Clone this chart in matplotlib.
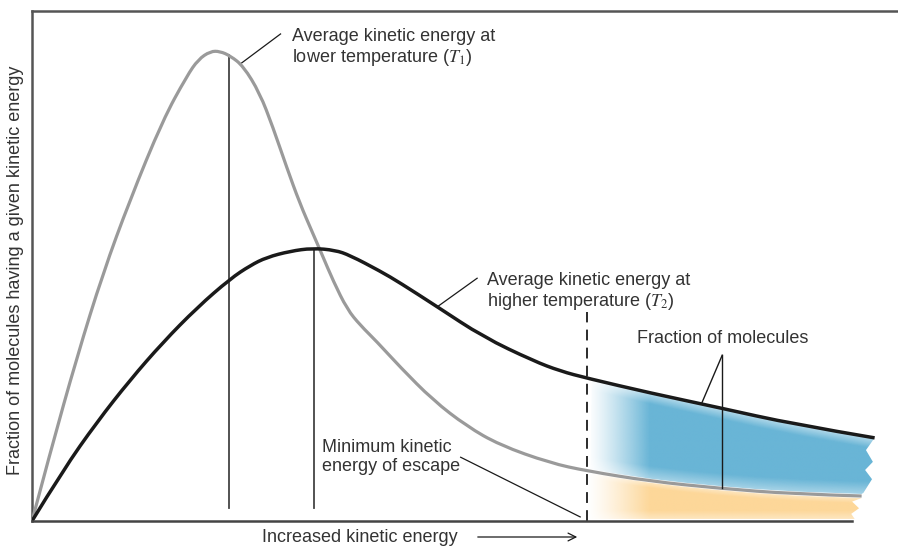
import numpy as np
import matplotlib
matplotlib.use("Agg")
import matplotlib.pyplot as plt
from matplotlib.patches import Polygon, PathPatch
from matplotlib.path import Path

plt.rcParams['font.family'] = ['Liberation Sans', 'DejaVu Sans']
plt.rcParams['mathtext.fontset'] = 'stix'

# curves (energy in arbitrary units, fraction 0..1)
energy_T1 = [0, 0.208, 0.52, 0.82, 1.13, 1.51, 1.79, 1.92, 2.06, 2.17, 2.29, 2.44,
             2.63, 2.78, 2.94, 3.09, 3.24, 3.35, 3.48, 3.64, 3.79, 3.98, 4.25,
             4.63, 5.02, 5.40, 5.98, 6.41, 7.14, 7.94, 8.79, 9.58]
frac_T1 = [0, 0.133, 0.322, 0.486, 0.629, 0.786, 0.873, 0.905, 0.921, 0.921, 0.912,
           0.892, 0.839, 0.773, 0.694, 0.624, 0.565, 0.522, 0.470, 0.415, 0.384,
           0.352, 0.302, 0.237, 0.186, 0.149, 0.114, 0.098, 0.078, 0.064, 0.053, 0.049]

energy_T2 = [0, 0.36, 0.75, 1.13, 1.51, 1.91, 2.29, 2.52, 2.71, 2.98, 3.24, 3.50,
             3.67, 4.02, 4.25, 4.68, 5.21, 5.79, 6.10, 6.41, 7.14, 7.94, 8.79, 9.73]
frac_T2 = [0, 0.10, 0.194, 0.276, 0.350, 0.419, 0.475, 0.501, 0.517, 0.529, 0.535,
           0.531, 0.521, 0.490, 0.467, 0.420, 0.361, 0.314, 0.294, 0.280, 0.251,
           0.222, 0.190, 0.163]

avg_T1 = 2.27
avg_T2 = 3.26
escape_energy = 6.41

# torn right edge of the shaded bands
blue_edge_x = [9.63, 9.71, 9.62, 9.70, 9.60]
blue_edge_y = [0.139, 0.116, 0.100, 0.082, 0.055]
orange_edge_x = [9.47, 9.55, 9.46, 9.50]
orange_edge_y = [0.038, 0.025, 0.014, 0.004]

gray = '#9a9a9a'
black = '#1a1a1a'
blue = '#69b5d6'
orange = '#fdd799'
txt = '#333333'

fig = plt.figure(figsize=(8.98, 5.46), dpi=100)
ax = fig.add_axes([32 / 898, 25 / 546, 866 / 898, 510 / 546])
ax.set_xlim(0, 10)
ax.set_ylim(0, 1)


def smooth_path(xs, ys):
    # quadratic bezier through the midpoints, read points act as control points
    pts = np.column_stack([xs, ys])
    verts = [pts[0]]
    codes = [Path.MOVETO]
    for i in range(1, len(pts) - 1):
        end = pts[i + 1] if i == len(pts) - 2 else (pts[i] + pts[i + 1]) / 2
        verts += [pts[i], end]
        codes += [Path.CURVE3, Path.CURVE3]
    return Path(verts, codes)


path_T1 = smooth_path(energy_T1, frac_T1)
path_T2 = smooth_path(energy_T2, frac_T2)
flat_T1 = path_T1.to_polygons(closed_only=False)[0]
flat_T2 = path_T2.to_polygons(closed_only=False)[0]


def curve_y(flat, x):
    return np.interp(x, flat[:, 0], flat[:, 1])


def gradient_fill(poly_xy, color, x0, x1, y_top, y_bot, soft_top, soft_bot):
    rgb = matplotlib.colors.to_rgb(color)
    ny, nx = 200, 300
    xs = np.linspace(x0, x1, nx)
    ys = np.linspace(0, 0.35, ny)
    X, Y = np.meshgrid(xs, ys)
    top = y_top(X)
    bot = y_bot(X)
    a = np.clip((X - x0) / 0.72, 0, 1) ** 1.2
    a = a * (0.45 + 0.55 * np.clip((top - Y) / soft_top, 0, 1))
    a = a * (0.55 + 0.45 * np.clip((Y - bot) / soft_bot, 0, 1))
    img = np.zeros((ny, nx, 4))
    img[..., :3] = rgb
    img[..., 3] = a
    im = ax.imshow(img, extent=(x0, x1, 0, 0.35), aspect='auto', origin='lower',
                   interpolation='bilinear', zorder=1)
    patch = Polygon(poly_xy, closed=True, facecolor='none', edgecolor='none')
    ax.add_patch(patch)
    im.set_clip_path(patch)


top = flat_T2[flat_T2[:, 0] >= escape_energy]
bot = flat_T1[flat_T1[:, 0] >= escape_energy]

# blue band: between the two curves beyond the escape energy
poly = list(top) + list(zip(blue_edge_x, blue_edge_y)) + list(bot[::-1] + [0, 0.004])
gradient_fill(poly, blue, escape_energy, 9.75,
              lambda x: curve_y(flat_T2, x), lambda x: curve_y(flat_T1, x), 0.022, 0.028)

# orange band: under the T1 curve beyond the escape energy
poly = list(bot - [0, 0.004]) + list(zip(orange_edge_x, orange_edge_y)) + [(escape_energy, 0.004)]
gradient_fill(poly, orange, escape_energy, 9.75,
              lambda x: curve_y(flat_T1, x), lambda x: 0 * x, 0.015, 0.02)

ax.add_patch(PathPatch(path_T1, facecolor='none', edgecolor=gray, lw=2.3, zorder=3))
ax.add_patch(PathPatch(path_T2, facecolor='none', edgecolor=black, lw=2.5, zorder=3))

# averages
ax.plot([avg_T1, avg_T1], [0.025, curve_y(flat_T1, avg_T1)], color='#444444', lw=1.3, zorder=2)
ax.plot([avg_T2, avg_T2], [0.025, curve_y(flat_T2, avg_T2)], color='#444444', lw=1.3, zorder=2)
ax.plot([escape_energy, escape_energy], [0, 0.41], color=black, lw=1.3,
        linestyle=(0, (6, 4)), zorder=4)

# bottom axis line
ax.plot([0, 9.47], [0, 0], color='#444444', lw=1.8, clip_on=False, zorder=5)

for s in ['right', 'bottom']:
    ax.spines[s].set_visible(False)
for s in ['left', 'top']:
    ax.spines[s].set_color('#555555')
    ax.spines[s].set_linewidth(1.8)
ax.set_xticks([])
ax.set_yticks([])

# labels and leaders
fs = 13
ax.text(3.0, 0.927, "Average kinetic energy at\nlower temperature ($T_1$)", fontsize=fs,
        color=txt, va='center', linespacing=1.15)
ax.plot([2.42, 2.87], [0.898, 0.955], color=black, lw=0.9)

ax.text(5.25, 0.449, "Average kinetic energy at\nhigher temperature ($T_2$)", fontsize=fs,
        color=txt, va='center', linespacing=1.15)
ax.plot([4.68, 5.14], [0.420, 0.476], color=black, lw=0.9)

ax.text(7.97, 0.357, "Fraction of molecules", fontsize=fs, color=txt, ha='center', va='center')
ax.plot([7.97, 7.97], [0.325, curve_y(flat_T1, 7.97)], color=black, lw=1.0, zorder=4)
ax.plot([7.97, 7.73], [0.325, curve_y(flat_T2, 7.73)], color=black, lw=1.0, zorder=4)

ax.text(3.35, 0.125, "Minimum kinetic\nenergy of escape", fontsize=fs, color=txt,
        va='center', linespacing=1.15)
ax.plot([4.95, 6.33], [0.125, 0.008], color=black, lw=0.9)

fig.text(262 / 898, 1 - 537 / 546, "Increased kinetic energy", fontsize=fs, color=txt,
         va='center')
ax.annotate("", xy=(580 / 898, 1 - 537 / 546), xytext=(475 / 898, 1 - 537 / 546),
            xycoords='figure fraction', textcoords='figure fraction',
            arrowprops=dict(arrowstyle='->', color=black, lw=0.9,
                            mutation_scale=14))
fig.text(16 / 898, 1 - 270 / 546, "Fraction of molecules having a given kinetic energy",
         fontsize=fs, color=txt, rotation=90, va='center', ha='center')

fig.savefig("out.png", dpi=100, facecolor='white')
